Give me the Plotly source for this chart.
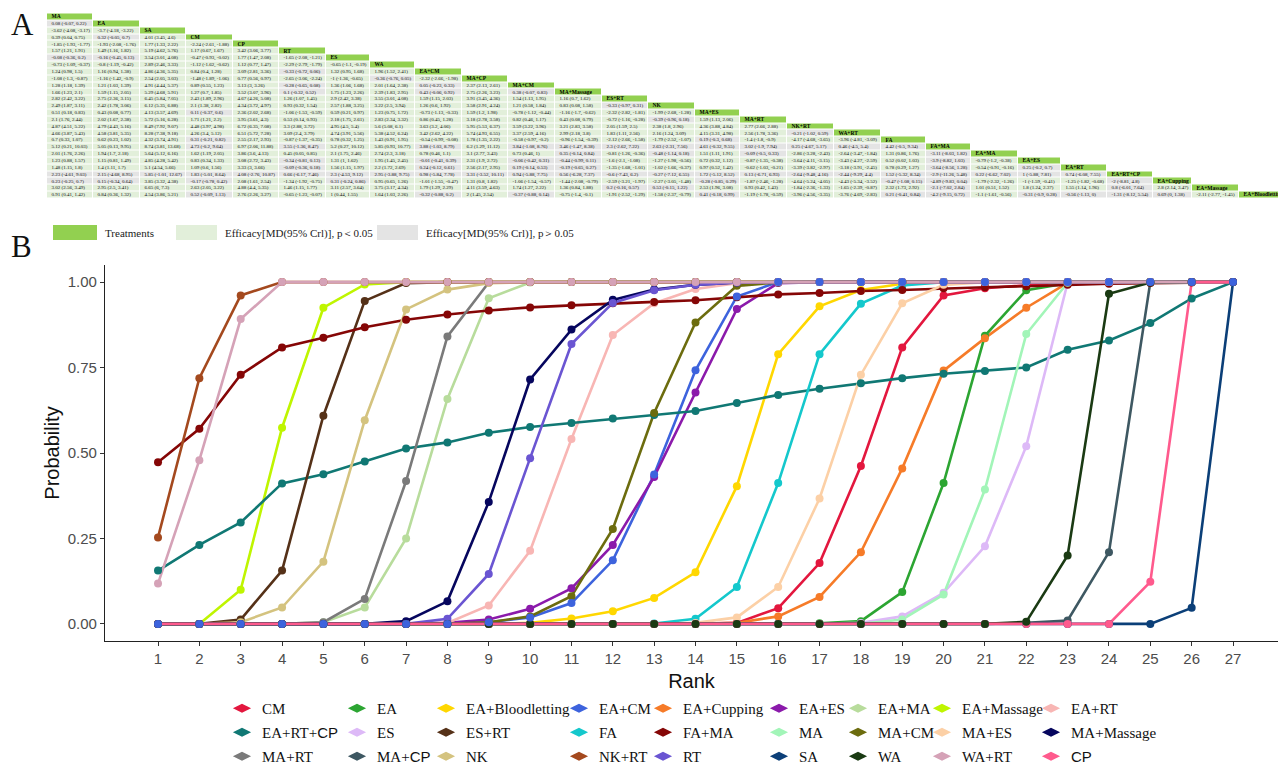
import re
import numpy as np
import plotly.graph_objects as go

# ---------------- Panel A data: league table ----------------
league_treatments = ["MA", "EA", "SA", "CM", "CP", "RT", "ES", "WA", "EA+CM", "MA+CP", "MA+CM",
                     "MA+Massage", "ES+RT", "NK", "MA+ES", "MA+RT", "NK+RT", "WA+RT", "FA", "FA+MA",
                     "EA+MA", "EA+ES", "EA+RT", "EA+RT+CP", "EA+Cupping", "EA+Massage", "EA+Bloodletting"]

league_rows = [
    [],
    ["0.08 (-0.07, 0.22)"],
    ["-3.62 (-4.08, -3.17)", "-3.7 (-4.18, -3.22)"],
    ["0.39 (0.04, 0.75)", "0.32 (-0.05, 0.7)", "4.01 (3.45, 4.6)"],
    ["-1.85 (-1.93, -1.77)", "-1.93 (-2.08, -1.76)", "1.77 (1.33, 2.22)", "-2.24 (-2.61, -1.88)"],
    ["1.57 (1.21, 1.91)", "1.49 (1.16, 1.82)", "5.19 (4.62, 5.76)", "1.17 (0.67, 1.67)", "3.42 (3.06, 3.77)"],
    ["-0.08 (-0.36, 0.2)", "-0.16 (-0.45, 0.13)", "3.54 (3.01, 4.08)", "-0.47 (-0.93, -0.02)", "1.77 (1.47, 2.08)",
     "-1.65 (-2.08, -1.21)"],
    ["-0.73 (-1.09, -0.37)", "-0.8 (-1.19, -0.42)", "2.89 (2.46, 3.33)", "-1.12 (-1.62, -0.62)", "1.12 (0.77, 1.47)",
     "-2.29 (-2.79, -1.79)", "-0.65 (-1.1, -0.19)"],
    ["1.24 (0.98, 1.5)", "1.16 (0.94, 1.38)", "4.86 (4.36, 5.35)", "0.84 (0.4, 1.28)", "3.09 (2.81, 3.36)",
     "-0.33 (-0.72, 0.06)", "1.32 (0.95, 1.68)", "1.96 (1.52, 2.41)"],
    ["-1.08 (-1.3, -0.87)", "-1.16 (-1.42, -0.9)", "2.54 (2.05, 3.03)", "-1.48 (-1.89, -1.06)", "0.77 (0.56, 0.97)",
     "-2.65 (-3.06, -2.24)", "-1 (-1.36, -0.65)", "-0.36 (-0.76, 0.05)", "-2.32 (-2.66, -1.98)"],
    ["1.28 (1.18, 1.39)", "1.21 (1.03, 1.39)", "4.91 (4.44, 5.37)", "0.89 (0.55, 1.23)", "3.13 (3, 3.26)",
     "-0.28 (-0.65, 0.08)", "1.36 (1.06, 1.68)", "2.01 (1.64, 2.38)", "0.05 (-0.23, 0.33)", "2.37 (2.13, 2.61)"],
    ["1.66 (1.23, 2.1)", "1.59 (1.15, 2.05)", "5.29 (4.68, 5.91)", "1.27 (0.7, 1.85)", "3.52 (3.07, 3.96)",
     "0.1 (-0.32, 0.52)", "1.75 (1.23, 2.26)", "2.39 (1.83, 2.95)", "0.43 (-0.06, 0.92)", "2.75 (2.26, 3.23)",
     "0.38 (-0.07, 0.83)"],
    ["2.82 (2.42, 3.22)", "2.75 (2.36, 3.15)", "6.45 (5.84, 7.05)", "2.43 (1.89, 2.96)", "4.67 (4.26, 5.08)",
     "1.26 (1.07, 1.45)", "2.9 (2.42, 3.38)", "3.55 (3.01, 4.08)", "1.59 (1.15, 2.03)", "3.91 (3.45, 4.36)",
     "1.54 (1.13, 1.95)", "1.16 (0.7, 1.62)"],
    ["2.49 (1.87, 3.11)", "2.42 (1.78, 3.06)", "6.12 (5.35, 6.88)", "2.1 (1.38, 2.82)", "4.34 (3.72, 4.97)",
     "0.93 (0.32, 1.54)", "2.57 (1.88, 3.25)", "3.22 (2.5, 3.94)", "1.26 (0.6, 1.92)", "3.58 (2.91, 4.24)",
     "1.21 (0.58, 1.84)", "0.83 (0.08, 1.58)", "-0.33 (-0.97, 0.31)"],
    ["0.51 (0.18, 0.83)", "0.43 (0.08, 0.77)", "4.13 (3.57, 4.69)", "0.11 (-0.37, 0.6)", "2.36 (2.02, 2.68)",
     "-1.06 (-1.53, -0.59)", "0.59 (0.21, 0.97)", "1.23 (0.75, 1.72)", "-0.73 (-1.13, -0.33)", "1.59 (1.2, 1.98)",
     "-0.78 (-1.12, -0.44)", "-1.16 (-1.7, -0.62)", "-2.32 (-2.82, -1.81)", "-1.99 (-2.68, -1.28)"],
    ["2.1 (1.76, 2.44)", "2.02 (1.67, 2.38)", "5.72 (5.16, 6.28)", "1.71 (1.21, 2.2)", "3.95 (3.61, 4.3)",
     "0.53 (0.14, 0.93)", "2.18 (1.75, 2.61)", "2.83 (2.34, 3.32)", "0.86 (0.45, 1.28)", "3.18 (2.78, 3.58)",
     "0.82 (0.46, 1.17)", "0.43 (0.08, 0.79)", "-0.72 (-1.16, -0.28)", "-0.39 (-0.96, 0.18)", "1.59 (1.13, 2.06)"],
    ["4.87 (4.51, 5.22)", "4.79 (4.43, 5.16)", "8.49 (7.92, 9.07)", "4.48 (3.97, 4.98)", "6.72 (6.35, 7.08)",
     "3.3 (2.88, 3.72)", "4.95 (4.5, 5.4)", "5.6 (5.08, 6.1)", "3.63 (3.2, 4.06)", "5.95 (5.53, 6.37)",
     "3.59 (3.22, 3.96)", "3.21 (2.83, 3.58)", "2.05 (1.59, 2.5)", "2.38 (1.8, 2.96)", "4.36 (3.88, 4.84)",
     "2.77 (2.66, 2.88)"],
    ["4.66 (3.87, 5.43)", "4.58 (3.81, 5.35)", "8.28 (7.38, 9.18)", "4.26 (3.4, 5.12)", "6.51 (5.72, 7.28)",
     "3.09 (2.4, 3.79)", "4.74 (3.91, 5.56)", "5.38 (4.52, 6.24)", "3.42 (2.62, 4.22)", "5.74 (4.93, 6.55)",
     "3.37 (2.59, 4.16)", "2.99 (2.18, 3.8)", "1.83 (1.11, 2.56)", "2.16 (1.24, 3.09)", "4.15 (3.31, 4.98)",
     "2.56 (1.78, 3.36)", "-0.21 (-1.02, 0.59)"],
    ["0.7 (0.33, 1.07)", "0.62 (0.23, 1.02)", "4.32 (3.74, 4.91)", "0.31 (-0.21, 0.82)", "2.55 (2.17, 2.93)",
     "-0.87 (-1.37, -0.35)", "0.78 (0.32, 1.25)", "1.43 (0.91, 1.95)", "-0.54 (-0.99, -0.08)", "1.78 (1.35, 2.22)",
     "-0.58 (-0.97, -0.2)", "-0.96 (-1.54, -0.39)", "-2.12 (-2.66, -1.58)", "-1.79 (-2.52, -1.07)",
     "0.19 (-0.3, 0.68)", "-1.4 (-1.8, -0.9)", "-4.17 (-4.68, -3.65)", "-3.96 (-4.81, -3.09)"],
    ["5.12 (0.21, 10.03)", "5.05 (0.13, 9.95)", "8.74 (3.81, 13.68)", "4.73 (-0.2, 9.64)", "6.97 (2.06, 11.88)",
     "3.55 (-1.36, 8.47)", "5.2 (0.27, 10.12)", "5.85 (0.93, 10.77)", "3.88 (-1.03, 8.79)", "6.2 (1.29, 11.12)",
     "3.84 (-1.08, 8.76)", "3.46 (-1.47, 8.38)", "2.3 (-2.62, 7.22)", "2.63 (-2.31, 7.56)", "4.61 (-0.32, 9.55)",
     "3.02 (-1.9, 7.94)", "0.25 (-4.67, 5.17)", "0.46 (-4.5, 5.4)", "4.42 (-0.5, 9.34)"],
    ["2.01 (1.76, 2.26)", "1.94 (1.7, 2.18)", "5.64 (5.12, 6.16)", "1.62 (1.19, 2.05)", "3.86 (3.6, 4.13)",
     "0.45 (0.05, 0.85)", "2.1 (1.75, 2.46)", "2.74 (2.3, 3.18)", "0.78 (0.46, 1.1)", "3.1 (2.77, 3.43)",
     "0.73 (0.46, 1)", "0.35 (-0.14, 0.84)", "-0.81 (-1.26, -0.36)", "-0.48 (-1.14, 0.18)", "1.51 (1.11, 1.91)",
     "-0.09 (-0.5, 0.33)", "-2.86 (-3.28, -2.43)", "-2.64 (-3.47, -1.84)", "1.31 (0.86, 1.76)",
     "-3.11 (-8.03, 1.82)"],
    ["1.23 (0.88, 1.57)", "1.15 (0.81, 1.49)", "4.85 (4.28, 5.42)", "0.83 (0.34, 1.33)", "3.08 (2.72, 3.43)",
     "-0.34 (-0.81, 0.13)", "1.31 (1, 1.62)", "1.95 (1.45, 2.45)", "-0.01 (-0.41, 0.39)", "2.31 (1.9, 2.72)",
     "-0.06 (-0.42, 0.31)", "-0.44 (-0.99, 0.11)", "-1.6 (-2.1, -1.08)", "-1.27 (-1.98, -0.56)",
     "0.72 (0.32, 1.12)", "-0.87 (-1.35, -0.38)", "-3.64 (-4.11, -3.15)", "-3.43 (-4.27, -2.59)",
     "0.52 (0.02, 1.03)", "-3.9 (-8.82, 1.03)", "-0.79 (-1.2, -0.38)"],
    ["1.48 (1.15, 1.8)", "1.4 (1.11, 1.7)", "5.1 (4.54, 5.66)", "1.09 (0.6, 1.56)", "3.33 (3, 3.66)",
     "-0.09 (-0.36, 0.18)", "1.56 (1.15, 1.97)", "2.2 (1.72, 2.69)", "0.24 (-0.12, 0.61)", "2.56 (2.17, 2.95)",
     "0.19 (-0.14, 0.53)", "-0.19 (-0.65, 0.27)", "-1.35 (-1.68, -1.01)", "-1.02 (-1.66, -0.37)",
     "0.97 (0.52, 1.42)", "-0.62 (-1.03, -0.21)", "-3.39 (-3.82, -2.97)", "-3.18 (-3.91, -2.45)",
     "0.78 (0.29, 1.27)", "-3.64 (-8.56, 1.28)", "-0.54 (-0.91, -0.16)", "0.25 (-0.2, 0.7)"],
    ["2.23 (-4.61, 9.03)", "2.15 (-4.68, 8.95)", "5.85 (-1.01, 12.67)", "1.83 (-5.01, 8.64)", "4.08 (-2.76, 10.87)",
     "0.66 (-6.17, 7.46)", "2.3 (-4.53, 9.12)", "2.95 (-3.88, 9.75)", "0.98 (-5.84, 7.78)", "3.31 (-3.52, 10.11)",
     "0.94 (-5.88, 7.75)", "0.56 (-6.28, 7.37)", "-0.6 (-7.43, 6.2)", "-0.27 (-7.12, 6.55)", "1.72 (-5.12, 8.52)",
     "0.13 (-6.71, 6.93)", "-2.64 (-9.48, 4.16)", "-2.44 (-9.29, 4.4)", "1.52 (-5.32, 8.34)",
     "-2.9 (-11.26, 5.48)", "0.22 (-6.62, 7.02)", "1 (-5.88, 7.81)", "0.74 (-6.08, 7.55)"],
    ["0.23 (-0.25, 0.7)", "0.15 (-0.34, 0.64)", "3.85 (3.32, 4.38)", "-0.17 (-0.78, 0.42)", "2.08 (1.61, 2.54)",
     "-1.34 (-1.92, -0.75)", "0.31 (-0.24, 0.86)", "0.95 (0.65, 1.26)", "-1.01 (-1.55, -0.47)", "1.31 (0.8, 1.82)",
     "-1.06 (-1.54, -0.57)", "-1.44 (-2.08, -0.79)", "-2.59 (-3.21, -1.97)", "-2.27 (-3.05, -1.48)",
     "-0.28 (-0.85, 0.29)", "-1.87 (-2.46, -1.28)", "-4.64 (-5.24, -4.05)", "-4.43 (-5.34, -3.52)",
     "-0.47 (-1.08, 0.15)", "-4.89 (-9.83, 0.04)", "-1.79 (-2.32, -1.26)", "-1 (-1.59, -0.41)",
     "-1.25 (-1.82, -0.68)", "-2 (-8.81, 4.8)"],
    ["3.02 (2.56, 3.49)", "2.95 (2.5, 3.41)", "6.65 (6, 7.3)", "2.63 (2.05, 3.22)", "4.88 (4.4, 5.35)",
     "1.46 (1.15, 1.77)", "3.11 (2.57, 3.64)", "3.75 (3.17, 4.34)", "1.79 (1.29, 2.29)", "4.11 (3.59, 4.63)",
     "1.74 (1.27, 2.22)", "1.36 (0.84, 1.88)", "0.2 (-0.16, 0.57)", "0.53 (-0.15, 1.22)", "2.53 (1.96, 3.08)",
     "0.93 (0.42, 1.43)", "-1.84 (-2.36, -1.33)", "-1.65 (-2.39, -0.87)", "2.32 (1.73, 2.92)",
     "-2.1 (-7.02, 2.84)", "1.01 (0.51, 1.52)", "1.8 (1.24, 2.37)", "1.55 (1.14, 1.96)", "0.8 (-6.01, 7.64)",
     "2.8 (2.14, 3.47)"],
    ["0.91 (0.41, 1.42)", "0.84 (0.36, 1.32)", "4.54 (3.86, 5.21)", "0.52 (-0.09, 1.13)", "2.76 (2.26, 3.27)",
     "-0.65 (-1.23, -0.07)", "1 (0.44, 1.55)", "1.64 (1.03, 2.26)", "-0.32 (-0.88, 0.2)", "2 (1.45, 2.54)",
     "-0.37 (-0.88, 0.14)", "-0.75 (-1.4, -0.1)", "-1.91 (-2.52, -1.29)", "-1.58 (-2.37, -0.79)",
     "0.41 (-0.18, 0.99)", "-1.19 (-1.78, -0.59)", "-3.96 (-4.56, -3.35)", "-3.76 (-4.69, -2.83)",
     "0.21 (-0.41, 0.84)", "-4.2 (-9.15, 0.72)", "-1.1 (-1.61, -0.56)", "-0.31 (-0.9, 0.28)",
     "-0.56 (-1.13, 0)", "-1.31 (-8.12, 5.54)", "0.69 (0, 1.38)", "-2.11 (-2.77, -1.45)"],
]

# ---------------- Panel B data: cumulative rank probabilities ----------------
ranks = list(range(1, 28))
rank_treatments = ["CM", "EA", "EA+Bloodletting", "EA+CM", "EA+Cupping", "EA+ES", "EA+MA", "EA+Massage",
                   "EA+RT", "EA+RT+CP", "ES", "ES+RT", "FA", "FA+MA", "MA", "MA+CM", "MA+ES", "MA+Massage",
                   "MA+RT", "MA+CP", "NK", "NK+RT", "RT", "SA", "WA", "WA+RT", "CP"]
cum_prob = {
    "CM": [0]*14 + [0.003, 0.046, 0.178, 0.462, 0.809, 0.961, 0.982, 0.992, 1, 1, 1, 1, 1],
    "EA": [0]*16 + [0.002, 0.008, 0.093, 0.412, 0.843, 0.976, 0.997, 1, 1, 1, 1],
    "EA+Bloodletting": [0]*9 + [0.003, 0.016, 0.037, 0.076, 0.151, 0.403, 0.789, 0.929, 0.977, 0.995] + [1]*8,
    "EA+CM": [0]*8 + [0.005, 0.019, 0.061, 0.186, 0.437, 0.742, 0.958] + [1]*12,
    "EA+Cupping": [0]*14 + [0.003, 0.022, 0.079, 0.21, 0.455, 0.741, 0.836, 0.925, 0.998, 1, 1, 1, 1],
    "EA+ES": [0]*7 + [0.003, 0.013, 0.044, 0.104, 0.231, 0.43, 0.677, 0.921, 0.997] + [1]*11,
    "EA+MA": [0]*4 + [0.005, 0.048, 0.25, 0.658, 0.953, 0.999] + [1]*17,
    "EA+Massage": [0]*2 + [0.1, 0.574, 0.925, 0.993] + [1]*21,
    "EA+RT": [0]*7 + [0.003, 0.054, 0.214, 0.541, 0.845, 0.938, 0.98, 0.997] + [1]*12,
    "EA+RT+CP": [0.156, 0.231, 0.297, 0.411, 0.438, 0.475, 0.513, 0.531, 0.559, 0.576, 0.588, 0.601, 0.611,
                 0.623, 0.646, 0.670, 0.688, 0.704, 0.719, 0.732, 0.740, 0.750, 0.802, 0.829, 0.880, 0.952, 1.0],
    "ES": [0]*17 + [0.003, 0.022, 0.091, 0.227, 0.52, 0.998, 1, 1, 1, 1],
    "ES+RT": [0]*2 + [0.013, 0.156, 0.609, 0.945, 0.997] + [1]*20,
    "FA": [0]*12 + [0.001, 0.015, 0.108, 0.412, 0.789, 0.937, 0.99] + [1]*8,
    "FA+MA": [0.473, 0.571, 0.729, 0.809, 0.837, 0.868, 0.890, 0.905, 0.917, 0.926, 0.932, 0.938, 0.942, 0.947,
              0.956, 0.964, 0.968, 0.974, 0.977, 0.982, 0.985, 0.988, 0.992, 0.995, 0.997, 0.999, 1.0],
    "MA": [0]*18 + [0.013, 0.086, 0.393, 0.848, 0.998, 1, 1, 1, 1],
    "MA+CM": [0]*8 + [0.005, 0.022, 0.081, 0.278, 0.617, 0.882, 0.989, 0.999] + [1]*11,
    "MA+ES": [0]*13 + [0.003, 0.019, 0.108, 0.367, 0.729, 0.938, 0.992] + [1]*7,
    "MA+Massage": [0]*6 + [0.008, 0.066, 0.357, 0.715, 0.861, 0.948, 0.978, 0.992, 0.999] + [1]*12,
    "MA+RT": [0]*4 + [0.005, 0.073, 0.418, 0.841, 0.999] + [1]*18,
    "MA+CP": [0]*21 + [0.003, 0.01, 0.21, 1, 1, 1],
    "NK": [0]*2 + [0.005, 0.048, 0.182, 0.596, 0.92, 0.978, 0.997] + [1]*18,
    "NK+RT": [0.253, 0.719, 0.961] + [1]*24,
    "RT": [0]*7 + [0.015, 0.146, 0.485, 0.819, 0.939, 0.976, 0.992, 0.999] + [1]*12,
    "SA": [0]*25 + [0.047, 1],
    "WA": [0]*21 + [0.006, 0.2, 0.966, 0.999, 1, 1],
    "WA+RT": [0.118, 0.479, 0.892] + [1]*24,
    "CP": [0]*24 + [0.123, 1, 1],
}
colors = {
    "CM": "#E3173E", "EA": "#2CA532", "EA+Bloodletting": "#FFD700", "EA+CM": "#3D63DD",
    "EA+Cupping": "#F67B28", "EA+ES": "#8B1AAB", "EA+MA": "#B8DC9C", "EA+Massage": "#BFF500",
    "EA+RT": "#F8B6B4", "EA+RT+CP": "#107874", "ES": "#DDB9F7", "ES+RT": "#553118", "FA": "#14C8CC",
    "FA+MA": "#850606", "MA": "#A2F5B8", "MA+CM": "#6C6C0E", "MA+ES": "#FCD0A6", "MA+Massage": "#06065E",
    "MA+RT": "#7A7A7A", "MA+CP": "#3E5862", "NK": "#D4C37F", "NK+RT": "#A4491E", "RT": "#6A55D2",
    "SA": "#0B3F78", "WA": "#1A3A13", "WA+RT": "#D5A2B7", "CP": "#FF5A8D",
}

W, H = 1278, 768
TOP_H = 262  # pixel height of the panel-A region
fig = go.Figure()

# ---------------- Panel A: league table ----------------
col_edges = [47, 93, 140, 186, 233, 279, 326, 370, 415, 462, 508, 555, 602, 648, 695, 740, 787, 834,
             881, 926, 971, 1018, 1061, 1107, 1153, 1192, 1239, 1290]
row_top, row_h = 13.5, 6.85
n = len(league_treatments)
row_edges = [row_top + i * row_h for i in range(n + 1)]

num_re = re.compile(r"-?\d+(?:\.\d+)?")
z = np.full((n, n), np.nan)
vx, vy, vt, hx, hy, ht = [], [], [], [], [], []
for i, name in enumerate(league_treatments):
    z[i, i] = 1
    hx.append(col_edges[i] + 4.5)
    hy.append(row_edges[i] + row_h / 2)
    ht.append("<b>" + name + "</b>")
    for j, cell in enumerate(league_rows[i]):
        md, lo, hi = [float(v) for v in num_re.findall(cell)]
        z[i, j] = 2 if (lo > 0 or hi < 0) else 3
        vx.append(col_edges[j] + 4.5)
        vy.append(row_edges[i] + row_h / 2)
        vt.append(cell)

fig.add_trace(go.Heatmap(
    z=z, x=col_edges, y=row_edges, xaxis="x2", yaxis="y2", zmin=1, zmax=3,
    colorscale=[[0, "#92D050"], [0.33, "#92D050"], [0.33, "#E2EFDA"], [0.67, "#E2EFDA"],
                [0.67, "#E4E4E4"], [1, "#E4E4E4"]],
    showscale=False, xgap=1, ygap=1, hoverinfo="skip", showlegend=False))
fig.add_trace(go.Scatter(x=vx, y=vy, text=vt, mode="text", textposition="middle right",
                         textfont=dict(family="Liberation Serif", size=5, color="#111111"),
                         xaxis="x2", yaxis="y2", showlegend=False, hoverinfo="skip", cliponaxis=True))
fig.add_trace(go.Scatter(x=hx, y=hy, text=ht, mode="text", textposition="middle right",
                         textfont=dict(family="Liberation Serif", size=5.5, color="#000000"),
                         xaxis="x2", yaxis="y2", showlegend=False, hoverinfo="skip", cliponaxis=True))

# table key
key_items = [("#92D050", "Treatments", 53, 97),
             ("#E2EFDA", "Efficacy[MD(95% Crl)], p＜0.05", 176, 217),
             ("#E4E4E4", "Efficacy[MD(95% Crl)], p＞0.05", 377, 418)]
for col, label, x0, x1 in key_items:
    fig.add_shape(type="rect", xref="x2", yref="y2", x0=x0, x1=x1, y0=225, y1=240,
                  fillcolor=col, line=dict(width=0), layer="below")
    fig.add_annotation(xref="x2", yref="y2", x=x1 + 6, y=233, text=label, showarrow=False,
                       xanchor="left", yanchor="middle",
                       font=dict(family="Liberation Serif", size=11, color="#222222"))

for lab, yy in [("A", 24), ("B", 246)]:
    fig.add_annotation(xref="paper", yref="paper", x=9 / W, y=1 - yy / H, text=lab, showarrow=False,
                       xanchor="left", yanchor="middle",
                       font=dict(family="Liberation Serif", size=31, color="#111111"))

# ---------------- Panel B: cumulative ranking curves ----------------
def legend_name(t):
    if t.endswith("CP"):
        return t[:-2] + "<span style='font-family:Liberation Sans'>CP</span>"
    return t

for t in rank_treatments:
    fig.add_trace(go.Scatter(
        x=ranks, y=cum_prob[t], mode="lines", line=dict(color=colors[t], width=2.6),
        showlegend=False, hoverinfo="skip", xaxis="x", yaxis="y"))

point_order = [t for t in rank_treatments if t not in ("WA", "EA+CM")] + ["WA", "EA+CM"]
for t in point_order:
    fig.add_trace(go.Scatter(x=ranks, y=cum_prob[t], mode="markers", name=t,
                             marker=dict(color=colors[t], size=8), showlegend=False,
                             xaxis="x", yaxis="y"))

# legend keys (one entry per treatment, arranged in 9 columns x 3 rows)
legend_cols_x = [244, 359, 448, 581, 665, 781, 860, 944, 1053]
for k, t in enumerate(rank_treatments):
    lg = "legend" if k % 9 == 0 else "legend%d" % (k % 9 + 1)
    fig.add_trace(go.Scatter(
        x=[None], y=[None], mode="markers", name=legend_name(t), legendgroup=t,
        marker=dict(color=colors[t], size=13, symbol="diamond-wide"),
        legend=lg, xaxis="x", yaxis="y"))

plot_l, plot_r, plot_t, plot_b = 105, 1278, 265, 641
layout = dict(
    width=W, height=H, margin=dict(l=0, r=0, t=0, b=0, autoexpand=False),
    paper_bgcolor="white", plot_bgcolor="rgba(0,0,0,0)",
    xaxis=dict(domain=[plot_l / W, plot_r / W], range=[-0.282, 28.088], tickmode="array",
               tickvals=ranks, ticktext=[str(r) for r in ranks], showline=True, linecolor="#222222",
               linewidth=1.2, ticks="outside", ticklen=4, tickcolor="#333333", showgrid=False,
               zeroline=False, automargin=False,
               tickfont=dict(family="Liberation Sans", size=15, color="#4D4D4D"),
               title=dict(text="Rank", font=dict(family="Liberation Sans", size=20, color="#111111"),
                          standoff=7)),
    yaxis=dict(domain=[1 - plot_b / H, 1 - plot_t / H], range=[-0.05, 1.05], tickmode="array",
               tickvals=[0, 0.25, 0.5, 0.75, 1.0], ticktext=["0.00", "0.25", "0.50", "0.75", "1.00"],
               showline=True, linecolor="#222222", linewidth=1.2, ticks="outside", ticklen=4,
               tickcolor="#333333", showgrid=False, zeroline=False, automargin=False,
               tickfont=dict(family="Liberation Sans", size=15, color="#4D4D4D"),
               title=dict(text="Probability", font=dict(family="Liberation Sans", size=20, color="#111111"),
                          standoff=2)),
    xaxis2=dict(domain=[0, 1], range=[0, W], visible=False, anchor="y2", fixedrange=True),
    yaxis2=dict(domain=[1 - TOP_H / H, 1], range=[TOP_H, 0], visible=False, anchor="x2", fixedrange=True),
)
for c, xpix in enumerate(legend_cols_x):
    key = "legend" if c == 0 else "legend%d" % (c + 1)
    layout[key] = dict(x=(xpix - 22) / W, y=1 - 692 / H, xanchor="left", yanchor="top",
                       orientation="v", bgcolor="rgba(0,0,0,0)", borderwidth=0, tracegroupgap=1.5,
                       itemwidth=30, font=dict(family="Liberation Serif", size=15, color="#111111"))
fig.update_layout(**layout)

fig.write_html("out.html", config={"displayModeBar": False},
               post_script="document.body.style.margin='0';")
